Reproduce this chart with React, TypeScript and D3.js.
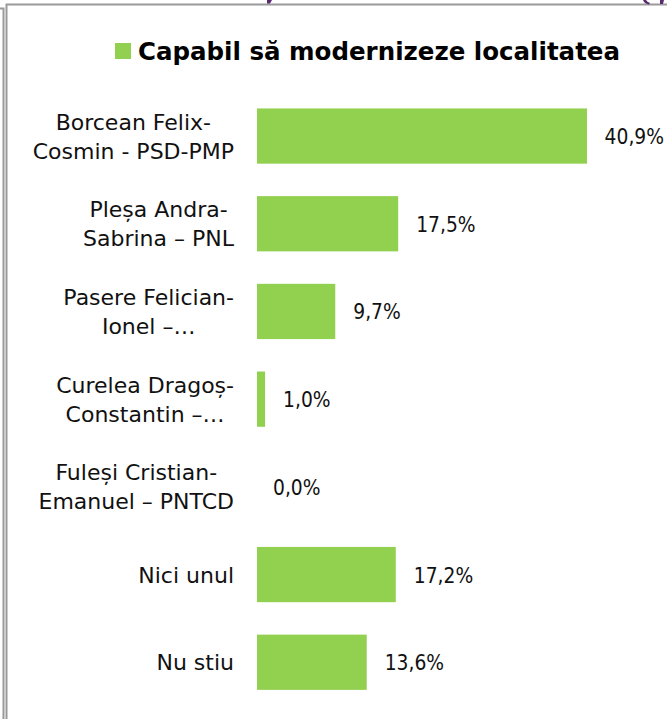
import { useEffect, useRef } from "react";
import * as d3 from "d3";

const W = 667;
const H = 719;

const title = "Capabil să modernizeze localitatea";
const categories = [
  ["Borcean Felix-", "Cosmin - PSD-PMP"],
  ["Pleșa Andra-", "Sabrina – PNL"],
  ["Pasere Felician-", "Ionel –…"],
  ["Curelea Dragoș-", "Constantin –…"],
  ["Fuleși Cristian-", "Emanuel – PNTCD"],
  ["Nici unul"],
  ["Nu stiu"],
];
const values = [40.9, 17.5, 9.7, 1.0, 0.0, 17.2, 13.6];
const valueLabels = ["40,9%", "17,5%", "9,7%", "1,0%", "0,0%", "17,2%", "13,6%"];

const GREEN = "#92d050";
const FONT = "'DejaVu Sans', sans-serif";

export default function App() {
  const svgRef = useRef<SVGSVGElement>(null);

  useEffect(() => {
    if (!svgRef.current) return;
    const svg = d3.select(svgRef.current);
    svg.selectAll("*").remove();

    // frame bits from the slide
    svg.append("path").attr("d", "M0,8.5H3.5V719").attr("fill", "none").attr("stroke", "#9a9a9a").attr("stroke-width", 2);
    svg.append("path").attr("d", "M6.5,719V4.5H667").attr("fill", "none").attr("stroke", "#9a9a9a").attr("stroke-width", 2);
    // tails of the cropped purple heading above
    svg.append("path").attr("d", "M267,0h5l-2,3.5h-3z").attr("fill", "#5b2a6e");
    svg.append("path").attr("d", "M643,0h3q1,2 4,3l-1,1.5q-5,-1 -6,-4.5z").attr("fill", "#5b2a6e");
    svg.append("path").attr("d", "M660,0h4l-1,4h-3z").attr("fill", "#5b2a6e");

    const x = d3.scaleLinear().domain([0, 40.9]).range([257, 587]);
    const y = d3.scaleBand<number>()
      .domain(d3.range(categories.length))
      .range([92.2, 706.1])
      .paddingInner(0.37)
      .paddingOuter(0.185);

    // legend / title
    svg.append("rect").attr("x", 115).attr("y", 43).attr("width", 16).attr("height", 16).attr("fill", GREEN);
    svg.append("text").attr("x", 138).attr("y", 60)
      .attr("font-family", FONT).attr("font-size", 24).attr("font-weight", "bold").attr("fill", "#000")
      .attr("textLength", 482).attr("lengthAdjust", "spacingAndGlyphs")
      .text(title);

    // bars
    svg.append("g").selectAll("rect").data(values).join("rect")
      .attr("x", x(0))
      .attr("y", (_, i) => y(i)!)
      .attr("width", (d) => x(d) - x(0))
      .attr("height", y.bandwidth())
      .attr("fill", GREEN);

    // value labels, squeezed a bit horizontally
    const sx = 0.85;
    const vl = svg.append("g").selectAll("text").data(values).join("text")
      .attr("font-family", FONT).attr("font-size", 22).attr("fill", "#111")
      .text((_, i) => valueLabels[i]);
    vl.each(function (d, i) {
      const el = this as SVGTextElement;
      const w = el.getComputedTextLength() * sx;
      const start = d === 0 ? x(0) + 16 : x(d) + 18;
      const lx = Math.min(start, 664 - w);
      const ly = y(i)! + y.bandwidth() / 2 + 8;
      el.setAttribute("transform", `translate(${lx},${ly}) scale(${sx},1)`);
    });

    // category labels
    const lineH = 29;
    categories.forEach((lines, i) => {
      const c = y(i)! + y.bandwidth() / 2;
      const t = svg.append("text").attr("font-family", FONT).attr("font-size", 22).attr("fill", "#111");
      if (lines.length === 1) {
        t.attr("x", 234).attr("y", c + 8).attr("text-anchor", "end").text(lines[0]);
        return;
      }
      const spans = lines.map((s, k) =>
        t.append("tspan").attr("y", c - 6.5 + k * lineH).text(s)
      );
      const maxW = d3.max(spans, (s) => (s.node() as SVGTSpanElement).getComputedTextLength()) ?? 0;
      const cx = 234 - maxW / 2;
      t.attr("text-anchor", "middle");
      spans.forEach((s) => s.attr("x", cx));
    });
  }, []);

  return (
    <div style={{ position: "absolute", left: 0, top: 0, width: W, height: H, background: "#fff" }}>
      <svg ref={svgRef} width={W} height={H} style={{ display: "block" }} />
    </div>
  );
}
